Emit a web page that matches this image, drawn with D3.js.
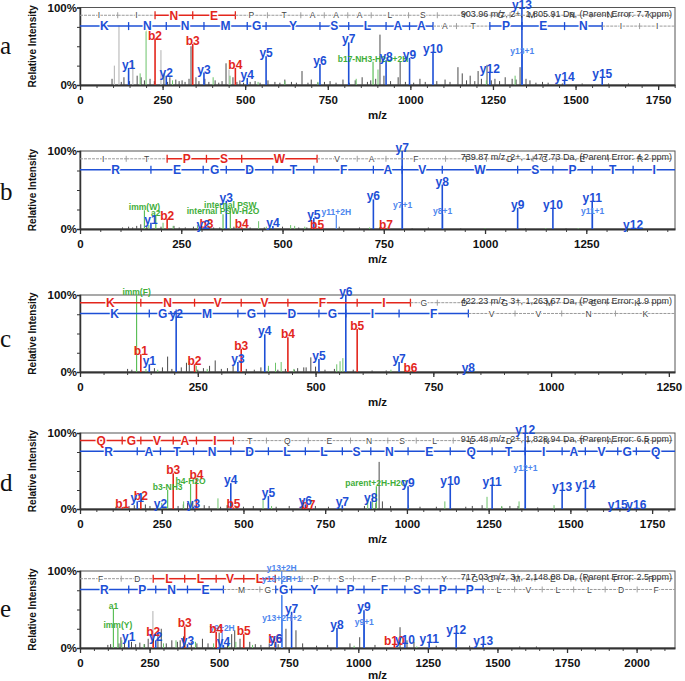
<!DOCTYPE html>
<html>
<head>
<meta charset="utf-8">
<script src="https://cdn.jsdelivr.net/npm/d3@7/dist/d3.min.js"></script>
<style>
body { margin: 0; background: #fff; }
svg { display: block; font-family: "Liberation Sans", Arial, sans-serif; }
</style>
</head>
<body>
<svg width="685" height="681"></svg>
<script>
// Monoisotopic residue masses used to place the b / y ladders
var residueMass = {G: 57.021, A: 71.037, S: 87.032, P: 97.053, V: 99.068, T: 101.048,
    L: 113.084, I: 113.084, N: 114.043, D: 115.027, Q: 128.059, K: 128.095,
    E: 129.043, M: 131.040, F: 147.068, R: 156.101, Y: 163.063, W: 186.079};

// ---- panel a ----
var seqA = 'IINEPTAAALSYGMNNK';
var titleA = '903.96 m/z, 2+, 1,805.91 Da, (Parent Error: 7.7 ppm)';
var bIonsA = [[2, 60], [3, 53], [4, 22]];          // [ion number, rel. intensity %]
var yIonsA = [[1, 22], [2, 12], [3, 16], [4, 9], [5, 37], [6, 27], [7, 55], [8, 32], [9, 35],
    [10, 43], [12, 17], [13, 100], [14, 6], [15, 10]];
var extraA = [[1338.65, 40, 'y13+1', 'l'], [887, 30, 'b17-NH3-H2O+2H', 'g']];
var noiseA = [[97, 8], [104, 25, 1], [118, 77, 1], [125, 4], [133, 10], [150, 5], [160, 30, 1], [173, 12],
    [185, 10], [195, 6], [212, 8], [225, 5], [245, 45, 1], [254, 15], [265, 4], [272, 10], [290, 7],
    [300, 5], [309, 6], [318, 4], [330, 8], [336, 50], [351, 10], [360, 5], [378, 8], [390, 4],
    [409, 6], [420, 3], [430, 5], [442, 28], [451, 20, 1], [463, 10], [475, 4], [484, 6], [495, 3],
    [515, 4], [530, 5], [545, 3], [569, 6], [590, 4], [605, 3], [620, 7], [640, 4], [655, 3],
    [672, 18], [690, 3], [700, 7], [720, 3], [740, 4], [757, 5], [775, 3], [796, 7], [815, 3],
    [833, 6], [854, 10], [870, 4], [880, 6], [895, 8], [908, 65], [920, 12], [940, 5], [963, 10],
    [969, 30], [985, 4], [1010, 3], [1029, 8], [1045, 4], [1080, 5], [1105, 7], [1120, 4],
    [1144, 23], [1157, 15], [1170, 6], [1181, 12], [1195, 5], [1205, 18], [1215, 8], [1232, 26],
    [1245, 6], [1256, 8], [1270, 5], [1287, 10], [1308, 8], [1320, 7], [1332, 23], [1350, 8],
    [1362, 6], [1380, 3], [1400, 4], [1417, 3], [1460, 2], [1520, 2], [1600, 2], [1660, 2]];
var greenA = [[182, 15], [200, 76], [280, 6], [403, 10], [454, 12], [539, 4], [620, 5], [720, 4],
    [836, 8], [902, 20], [1230, 6], [1317, 12]];

// ---- panel b ----
var seqB = 'ITPSWVAFTDGER';
var titleB = '739.87 m/z, 2+, 1,477.73 Da, (Parent Error: 4.2 ppm)';
var bIonsB = [[2, 13], [3, 2], [4, 2], [5, 1], [7, 1]];
var yIonsB = [[1, 8], [2, 1], [3, 36], [4, 4], [5, 14], [6, 38], [7, 100], [8, 57], [9, 27],
    [10, 27], [11, 36], [12, 1]];
var extraB = [[159.09, 24, 'imm(W)', 'g'], [187.14, 17, 'a2', 'g'], [371.17, 27, 'internal PSW', 'g'],
    [353.16, 19, 'internal PSW-H2O', 'g'], [632.8, 18, 'y11+2H', 'l'], [796.4, 27, 'y7+1', 'l'],
    [895.4, 19, 'y8+1', 'l'], [1265.6, 19, 'y11+1', 'l']];
var noiseB = [[105, 2], [120, 3], [130, 2], [140, 4], [150, 6], [165, 3], [200, 3], [232, 4], [245, 2],
    [260, 2], [280, 3], [300, 3], [330, 2], [345, 2], [380, 3], [420, 2], [455, 2], [500, 3],
    [540, 2], [560, 2], [600, 2], [640, 3], [690, 2], [740, 2], [820, 1], [860, 2], [940, 1],
    [1000, 1], [1100, 1], [1200, 1]];
var greenB = [[170, 5], [205, 8], [230, 4], [290, 5], [441, 10], [460, 3], [520, 5], [530, 4],
    [555, 3], [715, 2], [760, 2], [1000, 1], [1150, 1], [1230, 1]];

// ---- panel c ----
var seqC = 'KNVVFIGDGMGK';
var titleC = '422.23 m/z, 3+, 1,263.67 Da, (Parent Error: 1.9 ppm)';
var bIonsC = [[1, 23], [2, 10], [3, 30], [4, 45], [5, 56], [6, 1]];
var yIonsC = [[1, 10], [2, 72], [3, 13], [4, 49], [5, 17], [6, 100], [7, 13], [8, 1]];
var extraC = [[120.08, 100, 'imm(F)', 'g']];
var noiseC = [[101, 4], [110, 3], [158, 5], [175, 6], [186, 20], [195, 4], [215, 6], [226, 12],
    [232, 14], [250, 3], [262, 5], [275, 8], [287, 15], [300, 4], [313, 5], [325, 8], [353, 4],
    [370, 3], [384, 6], [400, 5], [420, 3], [436, 4], [455, 3], [462, 5], [475, 6], [480, 6],
    [490, 19], [500, 7], [520, 3], [540, 4], [580, 3], [620, 2], [650, 2]];
var greenC = [[140, 4], [165, 3], [247, 8], [270, 4], [400, 8], [415, 12], [427, 13], [454, 4],
    [545, 10], [552, 14], [558, 18], [660, 3], [700, 2]];

// ---- panel d ----
var seqD = 'QGVAITQENSLLDNTAR';
var titleD = '915.48 m/z, 2+, 1,828.94 Da, (Parent Error: 6.5 ppm)';
var bIonsD = [[1, 2], [2, 13], [3, 47], [4, 41], [5, 2], [7, 1]];
var yIonsD = [[1, 10], [2, 2], [3, 3], [4, 34], [5, 17], [6, 6], [7, 5], [8, 10], [9, 30],
    [10, 33], [11, 32], [12, 100], [13, 25], [14, 28], [15, 1], [16, 1]];
var extraD = [[1362.67, 50, 'y12+1', 'l'], [268.13, 25, 'b3-NH3', 'g'], [338.18, 33, 'b4-H2O', 'g'],
    [906.5, 30, 'parent+2H-H2O', 'g']];
var noiseD = [[110, 3], [130, 2], [150, 4], [166, 5], [200, 6], [214, 4], [235, 5], [300, 4],
    [316, 6], [329, 8], [345, 9], [380, 5], [395, 4], [430, 3], [450, 5], [480, 4], [500, 3],
    [530, 4], [600, 3], [640, 4], [680, 3], [720, 4], [760, 3], [790, 3], [870, 4], [905, 8],
    [915, 62], [925, 10], [950, 4], [1040, 3], [1090, 3], [1180, 3], [1200, 4], [1230, 5],
    [1290, 3], [1315, 4], [1340, 4], [1400, 2]];
var greenD = [[250, 8], [317, 10], [422, 14], [462, 10], [560, 14], [586, 4], [880, 14], [895, 18],
    [1005, 5], [1116, 10], [1245, 16], [1290, 4], [1343, 10], [1450, 5]];

// ---- panel e ----
var seqE = 'FDLLVLPPSFPYGGMENPR';
var titleE = '717.03 m/z, 3+, 2,148.08 Da, (Parent Error: 2.5 ppm)';
var bIonsE = [[2, 17], [3, 28], [4, 21], [5, 18], [6, 8], [10, 5]];
var yIonsE = [[1, 10], [2, 10], [3, 5], [4, 4], [6, 8], [7, 47], [8, 26], [9, 49], [10, 7],
    [11, 8], [12, 19], [13, 5]];
var extraE = [[120.08, 51, 'a1', 'g'], [136.08, 26, 'imm(Y)', 'g'], [724.83, 100, 'y13+2H', 'l'],
    [725.33, 86, 'y13+2H+1', 'l'], [725.83, 35, 'y13+2H+2', 'l'], [510.7, 22, 'y9+2H', 'l'],
    [1021.45, 30, 'y9+1', 'l']];
var noiseE = [[100, 4], [110, 5], [140, 6], [147, 14], [160, 10], [185, 8], [200, 5], [215, 7],
    [232, 5], [245, 12], [262, 48, 1], [280, 22], [292, 25], [310, 6], [330, 10], [350, 8],
    [360, 10], [372, 15], [400, 8], [420, 6], [440, 12], [460, 6], [500, 20], [530, 7], [545, 18],
    [556, 23], [575, 12], [610, 8], [630, 5], [650, 4], [680, 6], [712, 5], [740, 25], [776, 23],
    [800, 6], [850, 3], [890, 4], [970, 6], [1005, 14], [1060, 4], [1150, 27], [1175, 10],
    [1200, 8], [1280, 3], [1400, 3], [1580, 2], [1640, 2]];
var greenE = [[150, 10], [175, 7], [230, 5], [300, 6], [345, 10], [415, 8], [480, 6], [534, 10],
    [560, 8], [620, 4], [700, 5], [985, 3], [1210, 2]];

var panels = [
    {letter: 'a', seq: seqA, title: titleA, b: bIonsA, y: yIonsA, extra: extraA, noise: noiseA, green: greenA},
    {letter: 'b', seq: seqB, title: titleB, b: bIonsB, y: yIonsB, extra: extraB, noise: noiseB, green: greenB},
    {letter: 'c', seq: seqC, title: titleC, b: bIonsC, y: yIonsC, extra: extraC, noise: noiseC, green: greenC},
    {letter: 'd', seq: seqD, title: titleD, b: bIonsD, y: yIonsD, extra: extraD, noise: noiseD, green: greenD},
    {letter: 'e', seq: seqE, title: titleE, b: bIonsE, y: yIonsE, extra: extraE, noise: noiseE, green: greenE}
];

// Layout
var plotLeft = 80, plotRight = 675;
var panelTop = [7.5, 151, 295, 433, 571];
var panelBottom = [85, 229, 372, 509, 648];
var panelXMax = [1801, 1469, 1263, 1820, 2138];
var panelTickMax = [1750, 1250, 1250, 1750, 2000];
var letterBase = [54, 200, 347, 491, 617];

var blue = '#1d4fd6', red = '#e3261c', green = '#3fae3a', lightBlue = '#4d86ee';

var svg = d3.select('svg');

// builds boundaries 0, ion1, ion2, ... for a ladder
function ladderBounds(seq, offset) {
    var bounds = [0], cum = offset;
    seq.split('').forEach(function(aa) {
        cum += residueMass[aa];
        bounds.push(cum);
    });
    return bounds;
}

function drawLadder(g, x, rowY, seq, bounds, seen, color) {
    var n = seq.length;
    var lit = seq.split('').map(function(aa, i) {
        return (i == 0 || seen.has(i)) && (i == n - 1 || seen.has(i + 1));
    });
    seq.split('').forEach(function(aa, i) {
        var x0 = x(bounds[i]), x1 = Math.min(x(bounds[i + 1]), plotRight);
        g.append('line')
            .attr('x1', x0).attr('x2', x1).attr('y1', rowY).attr('y2', rowY)
            .attr('stroke', lit[i] ? color : '#9a9a9a')
            .attr('stroke-width', lit[i] ? 1.5 : 1)
            .attr('stroke-dasharray', lit[i] ? null : '3,1');
        if (i < n - 1) {
            var on = lit[i] || lit[i + 1];
            g.append('line')
                .attr('x1', x1).attr('x2', x1)
                .attr('y1', rowY - (on ? 4 : 3)).attr('y2', rowY + (on ? 4 : 3))
                .attr('stroke', on ? color : '#888')
                .attr('stroke-width', on ? 1.3 : 0.8);
        }
    });
    seq.split('').forEach(function(aa, i) {
        var x0 = x(bounds[i]), x1 = Math.min(x(bounds[i + 1]), plotRight);
        g.append('text')
            .attr('x', (x0 + x1) / 2).attr('y', rowY)
            .attr('dy', '0.36em')
            .attr('text-anchor', 'middle')
            .attr('font-size', lit[i] ? 12 : 8.5)
            .attr('font-weight', lit[i] ? 'bold' : 'normal')
            .attr('fill', lit[i] ? color : '#444')
            .attr('stroke', '#fff').attr('stroke-width', lit[i] ? 2.5 : 2)
            .attr('paint-order', 'stroke')
            .text(aa);
    });
}

panels.forEach(function(p, i) {
    var top = panelTop[i], bottom = panelBottom[i];
    var g = svg.append('g');

    var x = d3.scaleLinear().domain([0, panelXMax[i]]).range([plotLeft, plotRight]);
    var y = d3.scaleLinear().domain([0, 100]).range([bottom, top]);

    // frame
    g.append('rect')
        .attr('x', plotLeft).attr('y', top)
        .attr('width', plotRight - plotLeft).attr('height', bottom - top)
        .attr('fill', 'none').attr('stroke', '#555').attr('stroke-width', 1);

    // minor x ticks
    var minorAxis = d3.axisBottom(x)
        .tickValues(d3.range(0, panelXMax[i], 50))
        .tickSize(3).tickFormat('');
    g.append('g').attr('transform', 'translate(0,' + bottom + ')').call(minorAxis)
        .call(function(s) { s.select('.domain').remove(); s.selectAll('line').attr('stroke', '#444'); });

    // major x axis
    var xAxis = d3.axisBottom(x)
        .tickValues(d3.range(0, panelTickMax[i] + 1, 250))
        .tickFormat(d3.format('d'))
        .tickSize(5).tickPadding(6).tickSizeOuter(0);
    var xg = g.append('g').attr('transform', 'translate(0,' + bottom + ')').call(xAxis);
    xg.select('.domain').attr('stroke', '#333').attr('stroke-width', 1.8);
    xg.selectAll('line').attr('stroke', '#333').attr('stroke-width', 1.3);
    xg.selectAll('text').attr('font-size', 11.5).attr('font-weight', 'bold')
        .attr('fill', '#111').attr('font-family', '"Liberation Sans", Arial, sans-serif');

    // y axis
    var yAxis = d3.axisLeft(y).tickValues([0, 25, 50, 75, 100]).tickSize(3).tickFormat('');
    var yg = g.append('g').attr('transform', 'translate(' + plotLeft + ',0)').call(yAxis);
    yg.select('.domain').attr('stroke', '#333').attr('stroke-width', 1.5);
    yg.selectAll('line').attr('stroke', '#333');
    [[100, '100%'], [0, '0%']].forEach(function(t) {
        g.append('text')
            .attr('x', plotLeft - 3).attr('y', y(t[0]) + 4)
            .attr('text-anchor', 'end')
            .attr('font-size', 11.5).attr('font-weight', 'bold').attr('fill', '#111')
            .text(t[1]);
    });

    // axis titles and panel letter
    g.append('text')
        .attr('transform', 'translate(32,' + ((top + bottom) / 2) + ') rotate(-90)')
        .attr('text-anchor', 'middle').attr('dy', '0.35em')
        .attr('font-size', 10).attr('font-weight', 'bold').attr('fill', '#111')
        .text('Relative Intensity');
    g.append('text')
        .attr('x', (plotLeft + plotRight) / 2).attr('y', Math.min(bottom + 34, 679))
        .attr('text-anchor', 'middle')
        .attr('font-size', 11.5).attr('font-weight', 'bold').attr('fill', '#111')
        .text('m/z');
    g.append('text')
        .attr('x', 0).attr('y', letterBase[i])
        .attr('font-family', '"Liberation Serif", "DejaVu Serif", serif')
        .attr('font-size', 25).attr('fill', '#111')
        .text(p.letter);

    // unannotated peaks
    g.selectAll('.noise').data(p.noise).enter().append('line')
        .attr('x1', function(d) { return x(d[0]); })
        .attr('x2', function(d) { return x(d[0]); })
        .attr('y1', y(0))
        .attr('y2', function(d) { return y(d[1]); })
        .attr('stroke', function(d) { return d[2] ? '#b0b0b0' : '#4a4a4a'; })
        .attr('stroke-width', 1);
    g.selectAll('.greenpk').data(p.green).enter().append('line')
        .attr('x1', function(d) { return x(d[0]); })
        .attr('x2', function(d) { return x(d[0]); })
        .attr('y1', y(0))
        .attr('y2', function(d) { return y(d[1]); })
        .attr('stroke', '#6cc36a')
        .attr('stroke-width', 1);

    // ladders
    var bBounds = ladderBounds(p.seq, 1.007);
    var yBounds = ladderBounds(p.seq.split('').reverse().join(''), 19.018);

    // other annotated peaks
    p.extra.forEach(function(d) {
        g.append('line')
            .attr('x1', x(d[0])).attr('x2', x(d[0]))
            .attr('y1', y(0)).attr('y2', y(d[1]))
            .attr('stroke', d[3] == 'g' ? '#5cbf58' : lightBlue)
            .attr('stroke-width', 1.2);
    });

    // b / y ion peaks
    var ions = p.b.map(function(d) { return {mz: bBounds[d[0]], h: d[1], label: 'b' + d[0], color: red}; })
        .concat(p.y.map(function(d) { return {mz: yBounds[d[0]], h: d[1], label: 'y' + d[0], color: blue}; }));
    g.selectAll('.ion').data(ions).enter().append('line')
        .attr('x1', function(d) { return x(d.mz); })
        .attr('x2', function(d) { return x(d.mz); })
        .attr('y1', y(0))
        .attr('y2', function(d) { return y(d.h); })
        .attr('stroke', function(d) { return d.color; })
        .attr('stroke-width', 1.6);

    drawLadder(g, x, y(90), p.seq, bBounds, new Set(p.b.map(function(d) { return d[0]; })), red);
    drawLadder(g, x, y(76), p.seq.split('').reverse().join(''), yBounds,
        new Set(p.y.map(function(d) { return d[0]; })), blue);

    // header text
    g.append('text')
        .attr('x', plotRight - 3).attr('y', top + 9)
        .attr('text-anchor', 'end')
        .attr('font-size', 9).attr('fill', '#333')
        .text(p.title);

    // labels
    p.extra.forEach(function(d) {
        g.append('text')
            .attr('x', x(d[0])).attr('y', y(d[1]))
            .attr('text-anchor', 'middle')
            .attr('font-size', 8.5).attr('font-weight', 'bold')
            .attr('fill', d[3] == 'g' ? green : lightBlue)
            .text(d[2]);
    });
    g.selectAll('.ionlabel').data(ions).enter().append('text')
        .attr('x', function(d) { return x(d.mz); })
        .attr('y', function(d) { return y(d.h) + 1; })
        .attr('text-anchor', 'middle')
        .attr('font-size', 12).attr('font-weight', 'bold')
        .attr('fill', function(d) { return d.color; })
        .text(function(d) { return d.label; });
});
</script>
</body>
</html>
